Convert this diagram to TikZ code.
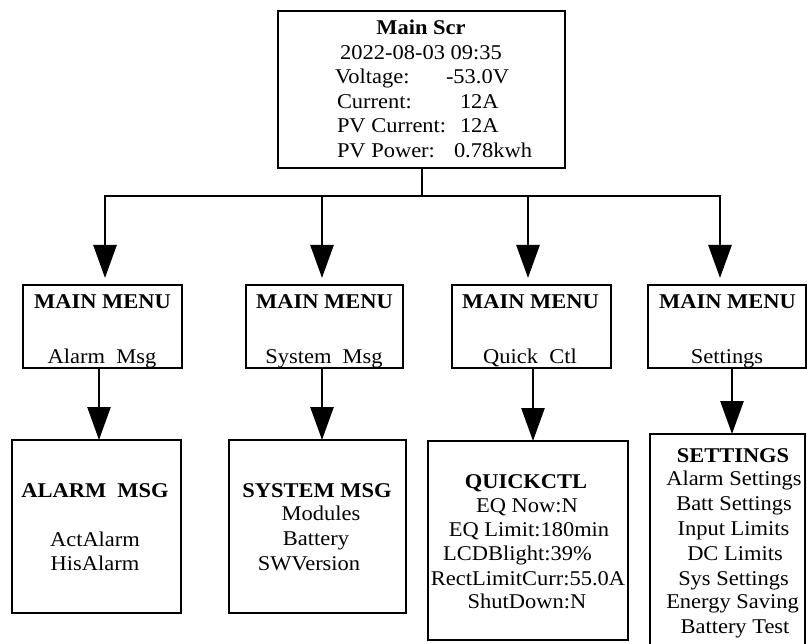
\documentclass[tikz,border=0pt]{standalone}
\usepackage{fontspec}
\setmainfont{Liberation Serif}[FakeStretch=1.07]
\usetikzlibrary{arrows.meta}
\begin{document}
\begin{tikzpicture}[x=1bp,y=-1bp,
  box/.style={draw, line width=2.6bp, inner sep=0pt, outer sep=0pt},
  txt/.style={inner sep=0pt, outer sep=0pt, anchor=base, font=\fontsize{21bp}{24.5bp}\selectfont},
  txtw/.style={txt, anchor=base west},
  ttl/.style={txt, font=\fontsize{21bp}{24.5bp}\selectfont\bfseries},
  link/.style={line width=2.6bp, line join=miter},
  arr/.style={link, -{Triangle[width=23bp,length=33bp]}},
]
\useasboundingbox (0,0) rectangle (807,644);
\fill[white] (0,0) rectangle (807,644);

% main screen
\node[box, minimum width=287bp, minimum height=157bp] (top) at (421.5,89.5) {};
\node[ttl] (t0) at (421,35) {Main Scr};
\node[txt] (t1) at (421,59.5) {2022-08-03 09:35};
\node[txtw] (l1) at (335,84) {Voltage:};
\node[txtw] (v1) at (446,84) {-53.0V};
\node[txtw] (l2) at (337,108.5) {Current:};
\node[txtw] (v2) at (460,108.5) {12A};
\node[txtw] (l3) at (337,133) {PV Current:};
\node[txtw] (v3) at (460,133) {12A};
\node[txtw] (l4) at (337,157.5) {PV Power:};
\node[txtw] (v4) at (454,157.5) {0.78kwh};

% main menu row
\node[box, minimum width=159bp, minimum height=83bp] (m1) at (102.5,326.5) {};
\node[box, minimum width=157bp, minimum height=83bp] (m2) at (324.5,326.5) {};
\node[box, minimum width=159bp, minimum height=83bp] (m3) at (531.5,326.5) {};
\node[box, minimum width=158bp, minimum height=83bp] (m4) at (727,326.5) {};
\node[ttl] (m1a) at (102.5,308) {MAIN MENU};
\node[ttl] (m2a) at (324.5,308) {MAIN MENU};
\node[ttl] (m3a) at (530.5,308) {MAIN MENU};
\node[ttl] (m4a) at (727.5,308) {MAIN MENU};
\node[txt] (m1b) at (102,363) {Alarm~~Msg};
\node[txt] (m2b) at (324,363) {System~~Msg};
\node[txt] (m3b) at (530,363) {Quick~~Ctl};
\node[txt] (m4b) at (727,363) {Settings};

% sub screens
\node[box, minimum width=169bp, minimum height=173bp] (c1) at (96.5,526.5) {};
\node[box, minimum width=177bp, minimum height=173bp] (c2) at (317.5,526.5) {};
\node[box, minimum width=200bp, minimum height=199bp] (c3) at (528,540.5) {};
\node[box, minimum width=155bp, minimum height=226bp] (c4) at (727.5,547) {};

\node[ttl] (c1a) at (95,497) {ALARM~~MSG};
\node[txt] (c1b) at (95,546) {ActAlarm};
\node[txt] (c1c) at (95,570) {HisAlarm};

\node[ttl] (c2a) at (317,497) {SYSTEM MSG};
\node[txt] (c2b) at (321,520.5) {Modules};
\node[txt] (c2c) at (316,545) {Battery};
\node[txt] (c2d) at (309,570) {SWVersion};

\node[ttl] (c3a) at (526,488) {QUICKCTL};
\node[txt] (c3b) at (527,512) {EQ Now:N};
\node[txt] (c3c) at (529,536) {EQ Limit:180min};
\node[txt] (c3d) at (517.5,560) {LCDBlight:39\%};
\node[txt] (c3e) at (528,585) {RectLimitCurr:55.0A};
\node[txt] (c3f) at (527,608.5) {ShutDown:N};

\node[ttl] (c4a) at (733,462) {SETTINGS};
\node[txt] (c4b) at (734,485.5) {Alarm Settings};
\node[txt] (c4c) at (734,510) {Batt Settings};
\node[txt] (c4d) at (733.5,535) {Input Limits};
\node[txt] (c4e) at (735,560) {DC Limits};
\node[txt] (c4f) at (733.5,585) {Sys Settings};
\node[txt] (c4g) at (732.5,608.5) {Energy Saving};
\node[txt] (c4h) at (735,633) {Battery Test};

% connectors from the main screen
\coordinate (jn) at (422,196);
\coordinate (a1) at (105,196);
\coordinate (a2) at (322,196);
\coordinate (a3) at (528,196);
\coordinate (a4) at (720,196);
\draw[link] (top.south -| jn) -- (jn);
\foreach \k in {1,2,3,4}
  \draw[arr, shorten >=7bp] (jn) -| (a\k |- m\k.north);

% connectors to the sub screens
\coordinate (b1) at (99,0);
\coordinate (b2) at (322,0);
\coordinate (b3) at (533,0);
\coordinate (b4) at (732,0);
\foreach \k in {1,2,3,4}
  \draw[arr] (b\k |- m\k.south) -- (b\k |- c\k.north);
\end{tikzpicture}
\end{document}
